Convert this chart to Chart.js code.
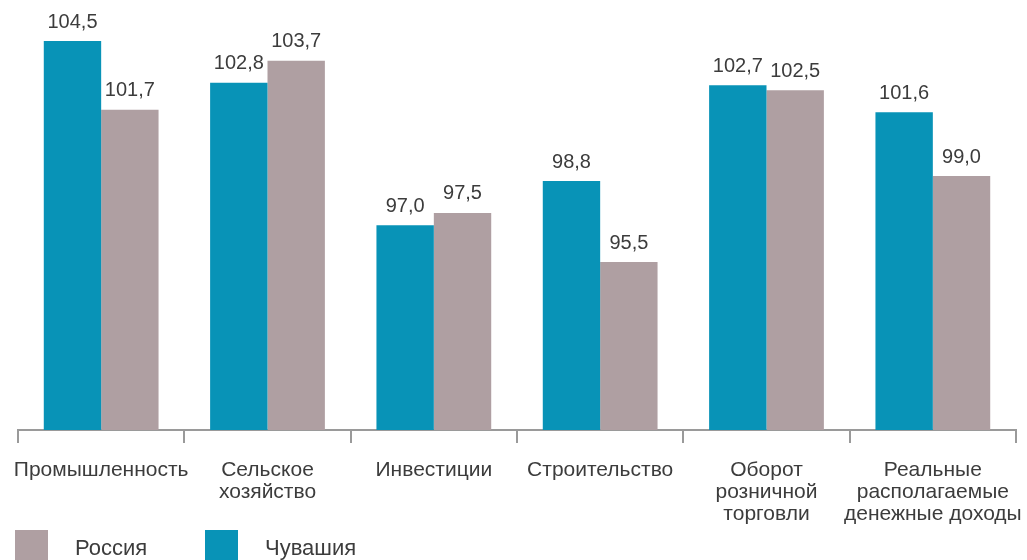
<!DOCTYPE html>
<html>
<head>
<meta charset="utf-8">
<script src="https://cdn.jsdelivr.net/npm/chart.js@4"></script>
<style>
html,body{margin:0;padding:0;background:#fff;}
#wrap{width:1027px;height:560px;position:relative;}
</style>
</head>
<body>
<div id="wrap"><canvas id="c" width="1027" height="560"></canvas></div>
<script>
const categories = [
  ['Промышленность'],
  ['Сельское', 'хозяйство'],
  ['Инвестиции'],
  ['Строительство'],
  ['Оборот', 'розничной', 'торговли'],
  ['Реальные', 'располагаемые', 'денежные доходы']
];
const chuvashia = [104.5, 102.8, 97.0, 98.8, 102.7, 101.6];
const russia = [101.7, 103.7, 97.5, 95.5, 102.5, 99.0];
const seriesNames = ['Чувашия', 'Россия'];

const BLUE = '#0893B7';
const PINK = '#AF9FA2';
const TEXT = '#3c3c3c';
const FONT = 'Liberation Sans, Arial, sans-serif';

const valueLabels = {
  id: 'valueLabels',
  afterDatasetsDraw(chart) {
    const ctx = chart.ctx;
    ctx.save();
    ctx.fillStyle = TEXT;
    ctx.font = '20px ' + FONT;
    ctx.textAlign = 'center';
    ctx.textBaseline = 'middle';
    chart.data.datasets.forEach((ds, i) => {
      chart.getDatasetMeta(i).data.forEach((bar, j) => {
        const t = ds.data[j].toFixed(1).replace('.', ',');
        ctx.fillText(t, bar.x, bar.y - 19);
      });
    });
    ctx.restore();
  }
};

const customLegend = {
  id: 'customLegend',
  afterDraw(chart) {
    const ctx = chart.ctx;
    ctx.save();
    ctx.font = '22px ' + FONT;
    ctx.textBaseline = 'middle';
    ctx.textAlign = 'left';
    const items = [
      {label: seriesNames[1], color: PINK, x: 15},
      {label: seriesNames[0], color: BLUE, x: 205}
    ];
    items.forEach(it => {
      ctx.fillStyle = it.color;
      ctx.fillRect(it.x, 530, 33, 32);
      ctx.fillStyle = TEXT;
      ctx.fillText(it.label, it.x + 60, 549);
    });
    ctx.restore();
  }
};

new Chart(document.getElementById('c'), {
  type: 'bar',
  data: {
    labels: categories,
    datasets: [
      {label: seriesNames[0], data: chuvashia, backgroundColor: BLUE, categoryPercentage: 0.69, barPercentage: 1.0},
      {label: seriesNames[1], data: russia, backgroundColor: PINK, categoryPercentage: 0.69, barPercentage: 1.0}
    ]
  },
  options: {
    responsive: false,
    animation: false,
    devicePixelRatio: 1,
    layout: {padding: {left: 18, right: 11, top: 0, bottom: 0}, autoPadding: false},
    plugins: {legend: {display: false}, tooltip: {enabled: false}},
    scales: {
      y: {display: false, min: 88.66, max: 106.17},
      x: {
        afterFit(scale) { scale.height = 130; scale.paddingLeft = 0; scale.paddingRight = 0; },
        border: {display: true, color: '#9a9a9a', width: 2},
        grid: {display: true, drawOnChartArea: false, drawTicks: true, tickLength: 13, color: '#9a9a9a', lineWidth: 2, offset: true},
        ticks: {color: TEXT, font: {family: FONT, size: 21, lineHeight: 1.05}, padding: 16, maxRotation: 0, autoSkip: false}
      }
    }
  },
  plugins: [valueLabels, customLegend]
});
</script>
</body>
</html>
